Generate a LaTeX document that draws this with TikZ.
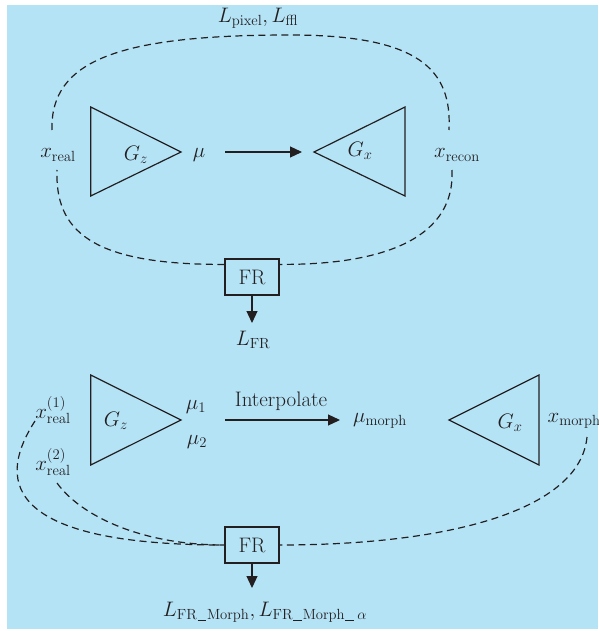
\RequirePackage{fix-cm}
\documentclass[tikz,border=0pt]{standalone}
\usetikzlibrary{arrows.meta,calc}
\definecolor{bg}{HTML}{B4E3F6}
\definecolor{ink}{HTML}{231F20}
\newcommand{\myusc}{\kern0.03em\rule[-0.06em]{0.42em}{0.045em}\kern0.03em}
\begin{document}
\begin{tikzpicture}[x=1pt,y=-1pt,line width=1.2pt,
  every node/.style={font=\fontsize{21}{25}\selectfont,text=ink,inner sep=0pt},
  lossline/.style={draw=ink,dash pattern=on 7pt off 4.5pt},
  gen/.style={draw=ink,line join=miter},
  frbox/.style={draw=ink,minimum width=54pt,minimum height=36pt,inner sep=0pt},
  arr/.style={draw=ink,-{Triangle[length=12pt,width=11pt]}}]
\fill[white] (0,0) rectangle (598,631);
\fill[bg] (7,5) rectangle (598,629);
\useasboundingbox (0,0) rectangle (598,631);
\clip (0,0) rectangle (598,631);

% ---------- top part ----------
\draw[gen] (90.7,107) -- (181,152) -- (90.7,196) -- cycle;
\draw[gen] (405,107) -- (314,152) -- (405,196) -- cycle;
\node (gz1) at (136,155) {$G_z$};
\node (gx1) at (360,151) {$G_x$};
\node (xreal) at (58,155) {$x_{\mathrm{real}}$};
\node (mu) at (199,155) {$\mu$};
\node (xrecon) at (457,155) {$x_{\mathrm{recon}}$};
\node (lpix) at (258,18) {$L_{\mathrm{pixel}}, L_{\mathrm{ffl}}$};
\node[frbox] (fr1) at (252,277) {FR};
\node (lfr) at (253,340) {$L_{\mathrm{FR}}$};

\coordinate (a1s) at (225,152);
\coordinate (a1e) at (302,152);
\draw[arr] (a1s) -- (a1e);
\coordinate (fr1tip) at (252,323);
\draw[arr] (fr1.south) -- (fr1tip);

\coordinate (fr1w) at ($(fr1.north west)+(0,6)$);
\coordinate (fr1e) at ($(fr1.north east)+(0,6)$);
\draw[lossline] (52,130) .. controls (50,60) and (120,35) .. (290,35)
  .. controls (420,35) and (452,70) .. (449,130);
\draw[lossline] (452,170) .. controls (455,235) and (390,265) .. (fr1e);
\draw[lossline] (fr1w) .. controls (90,265) and (55,230) .. (57,170);

% ---------- bottom part ----------
\draw[gen] (90.7,375) -- (181,420) -- (90.7,465) -- cycle;
\draw[gen] (539,375) -- (449,420) -- (539,465) -- cycle;
\node (gz2) at (116,421) {$G_z$};
\node (gx2) at (510,423) {$G_x$};
\node (xr1) at (53,410) {$x_{\mathrm{real}}^{(1)}$};
\node (xr2) at (53,462) {$x_{\mathrm{real}}^{(2)}$};
\node (mu1) at (196,407) {$\mu_1$};
\node (mu2) at (197,442) {$\mu_2$};
\node (interp) at (281,401) {Interpolate};
\node (mumorph) at (380,421) {$\mu_{\mathrm{morph}}$};
\node[anchor=west] (xmorph) at (547,421) {$x_{\mathrm{morph}}$};
\node[frbox] (fr2) at (252,545) {FR};
\node (lmorph) at (265,612) {$L_{\mathrm{FR\myusc Morph}}, L_{\mathrm{FR\myusc Morph\myusc}\,\alpha}$};

\coordinate (a2s) at (225,420);
\coordinate (a2e) at (340,420);
\draw[arr] (a2s) -- (a2e);
\coordinate (fr2tip) at (252,588);
\draw[arr] (fr2.south) -- (fr2tip);

\draw[lossline] (35,421) .. controls (0,475) and (-5,545) .. (fr2.west);
\draw[lossline] (57,483) .. controls (80,515) and (140,545) .. (fr2.west);
\draw[lossline] (587,437) .. controls (580,510) and (450,545) .. (fr2.east);
\end{tikzpicture}
\end{document}
